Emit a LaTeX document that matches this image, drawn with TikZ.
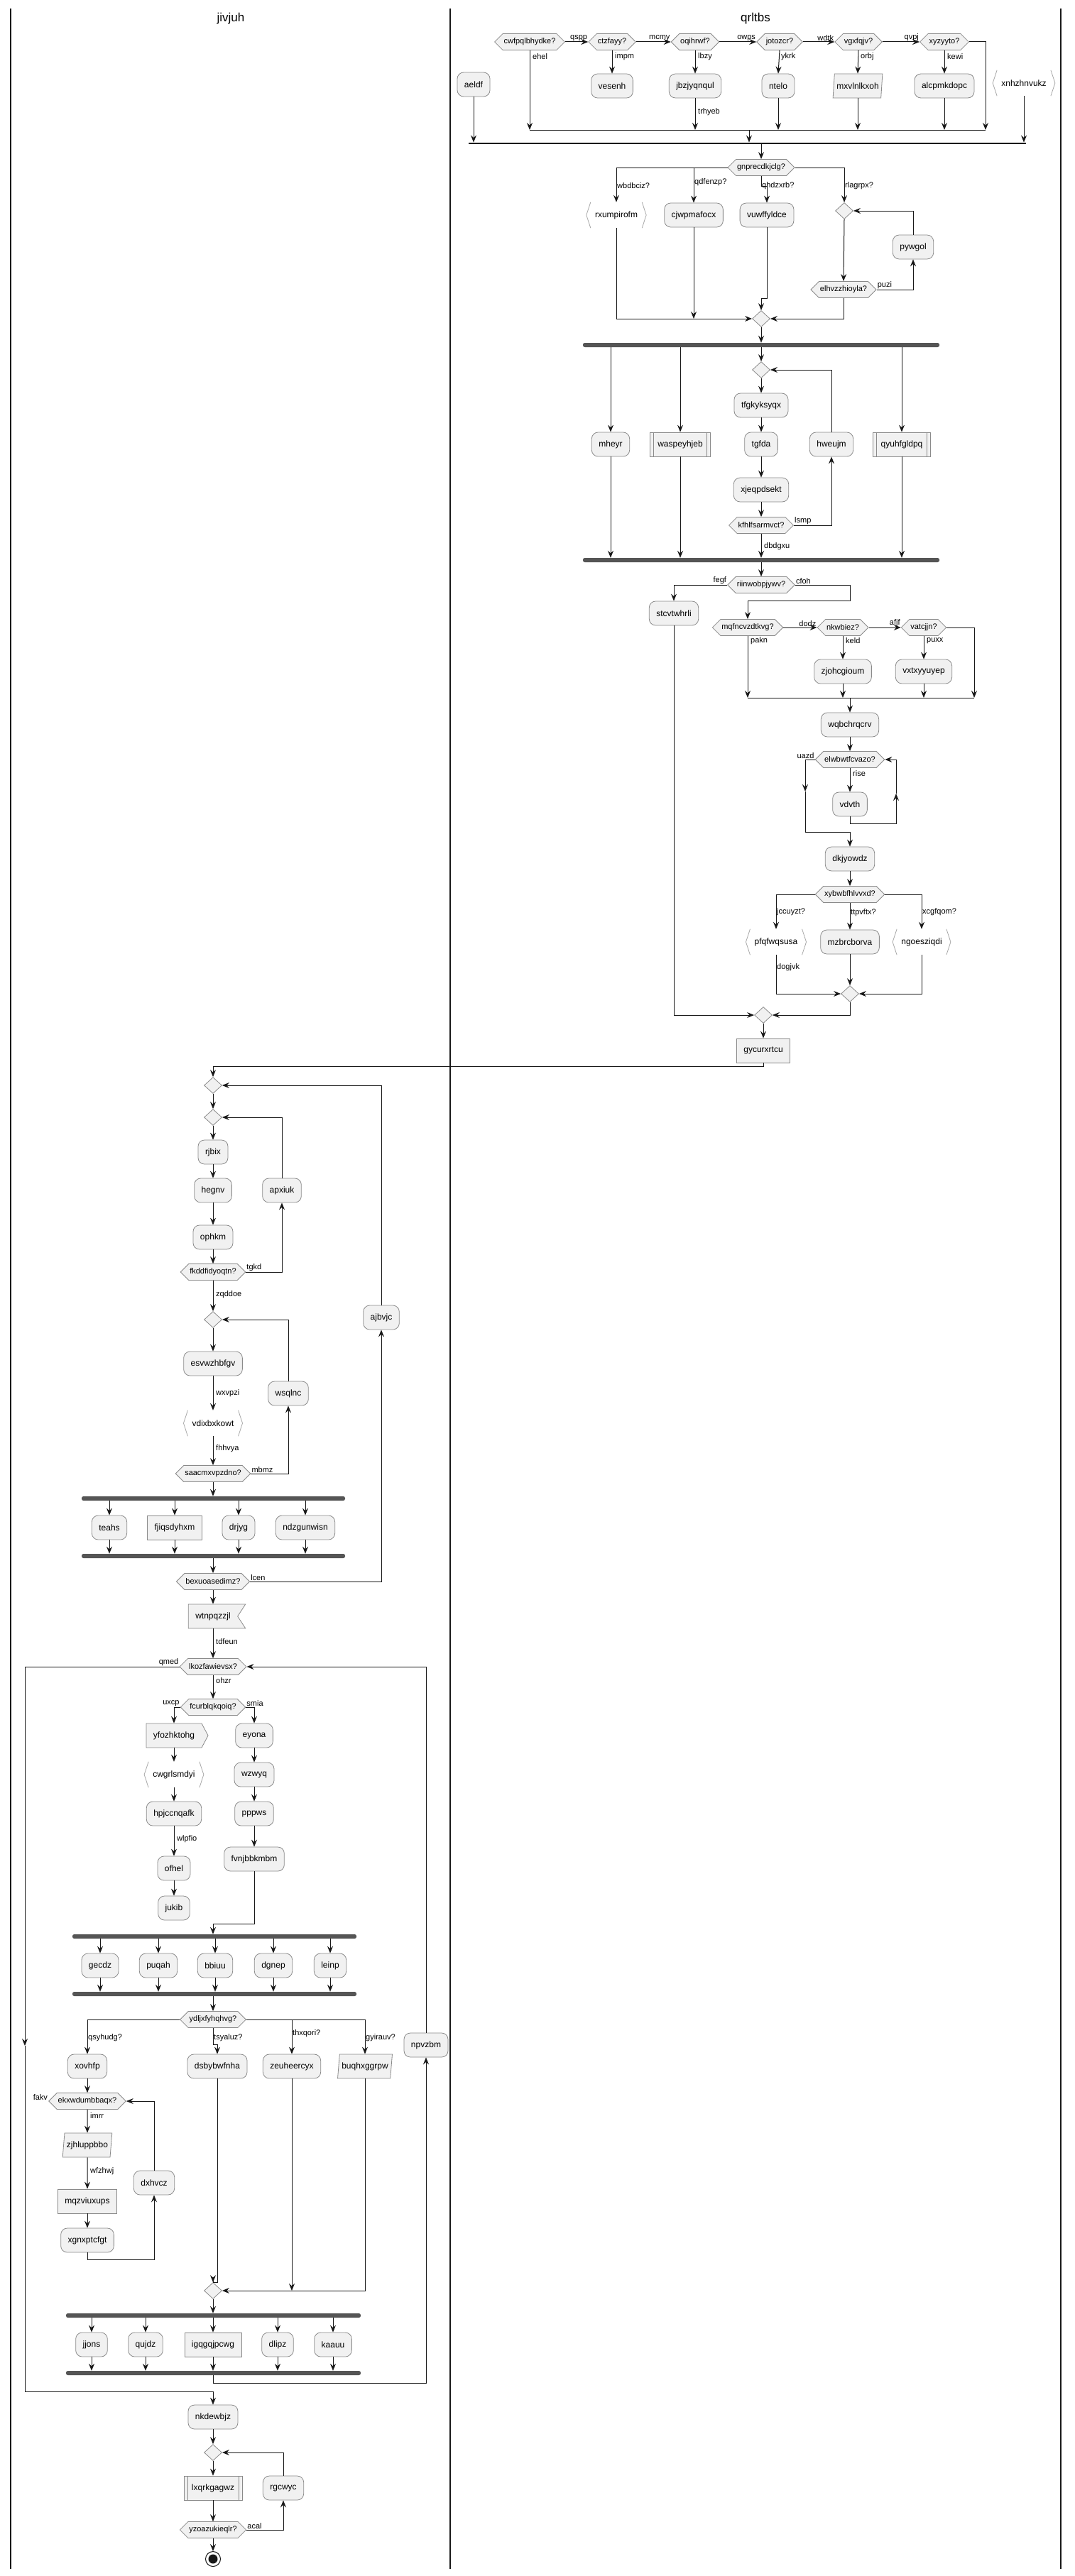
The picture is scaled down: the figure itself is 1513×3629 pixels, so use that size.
\documentclass[tikz,border=0pt]{standalone}
\usepackage{fontspec}
\setmainfont{Liberation Sans}
\usetikzlibrary{shapes.geometric,shapes.symbols,arrows.meta}

\definecolor{boxfill}{HTML}{F1F1F1}
\definecolor{boxline}{HTML}{8A8A8A}
\definecolor{chevline}{HTML}{A8A8A8}
\definecolor{wire}{HTML}{181818}
\definecolor{barfill}{HTML}{555555}

\newcommand\nodefont{\fontsize{12}{14}\selectfont}
\newcommand\condfont{\fontsize{11}{13}\selectfont}
\newcommand\lblfont{\fontsize{11}{13}\selectfont}
\newcommand\headfont{\fontsize{17}{20}\selectfont}

% angle-bracket outline drawn around a plain text node
\newcommand\chevrons[1]{%
  \draw[chevstroke] ([xshift=6pt]#1.north west) -- (#1.west) -- ([xshift=6pt]#1.south west);
  \draw[chevstroke] ([xshift=-6pt]#1.north east) -- (#1.east) -- ([xshift=-6pt]#1.south east);}

\tikzset{
  act/.style={draw=boxline, fill=boxfill, line width=0.8pt, rounded corners=9pt,
    minimum height=34pt, inner xsep=10pt, inner ysep=0pt, font=\nodefont, text=black},
  sq/.style={act, rounded corners=0pt},
  subr/.style={sq, inner xsep=11pt, path picture={
    \draw[boxline, line width=0.8pt]
      ([xshift=5pt]path picture bounding box.north west) -- ([xshift=5pt]path picture bounding box.south west)
      ([xshift=-5pt]path picture bounding box.north east) -- ([xshift=-5pt]path picture bounding box.south east);}},
  para/.style={trapezium, trapezium left angle=76, trapezium right angle=104,
    trapezium stretches body=true, draw=boxline, fill=boxfill, line width=0.8pt,
    minimum height=34pt, inner xsep=3pt, inner ysep=0pt, font=\nodefont},
  hexa/.style={signal, signal to=west and east, signal pointer angle=90,
    draw=boxline, fill=boxfill, line width=0.8pt, minimum height=23pt,
    inner xsep=1.5pt, inner ysep=0pt, font=\condfont},
  sendbox/.style={signal, signal to=east, signal from=nowhere, signal pointer angle=124,
    draw=boxline, fill=boxfill, line width=0.8pt, minimum height=34pt,
    inner xsep=10pt, inner ysep=0pt, font=\nodefont},
  recvbox/.style={signal, signal to=nowhere, signal from=east, signal pointer angle=114,
    draw=boxline, fill=boxfill, line width=0.8pt, minimum height=34pt,
    inner xsep=10pt, inner ysep=0pt, font=\nodefont},
  chev/.style={minimum height=36pt, inner xsep=12pt, inner ysep=0pt, font=\nodefont},
  chevstroke/.style={draw=chevline, line width=0.8pt},
  merge/.style={diamond, draw=boxline, fill=boxfill, line width=0.8pt,
    minimum width=25pt, minimum height=23pt, inner sep=0pt},
  forkbar/.style={fill=barfill, rounded corners=2.5pt, minimum height=6pt, inner sep=0pt},
  splitbar/.style={fill=wire, minimum height=2.5pt, inner sep=0pt},
  flow/.style={draw=wire, line width=1pt, -{Stealth[length=10pt, width=8pt, inset=3.5pt]}},
  wire1/.style={draw=wire, line width=1pt},
  lbl/.style={font=\lblfont, inner sep=1pt, text=black},
  lane/.style={draw=wire, line width=1.5pt},
  head/.style={font=\headfont, text=black},
}

\begin{document}
\begin{tikzpicture}[x=1pt, y=-1pt]
\useasboundingbox (0,0) rectangle (1513,3629);
\fill[white] (0,0) rectangle (1513,3629);

% swimlanes
\draw[lane] (15,12) -- (15,3619);
\draw[lane] (634,12) -- (634,3619);
\draw[lane] (1494,12) -- (1494,3619);
\node[head] (t1) at (325,26) {jivjuh};
\node[head] (t2) at (1064,26) {qrltbs};

% ---------------- lane qrltbs: condition chain ----------------
\node[hexa] (d1) at (746,59) {cwfpqlbhydke?};
\node[hexa] (d2) at (862,59) {ctzfayy?};
\node[hexa] (d3) at (979,59) {oqihrwf?};
\node[hexa] (d4) at (1098,59) {jotozcr?};
\node[hexa] (d5) at (1209,59) {vgxfqjv?};
\node[hexa] (d6) at (1330,59) {xyzyyto?};

\node[act] (aeldf) at (667,119) {aeldf};
\node[act] (vesenh) at (862,121) {vesenh};
\node[act] (jbz) at (979,121) {jbzjyqnqul};
\node[act] (ntelo) at (1096,121) {ntelo};
\node[para] (mxv) at (1208,121) {mxvlnlkxoh};
\node[act] (alc) at (1330,121) {alcpmkdopc};
\node[chev] (xnh) at (1442,117) {xnhzhnvukz};
\chevrons{xnh}

\coordinate (ml1a) at (746,183);
\coordinate (ml1b) at (1388,183);
\coordinate (ml1c) at (1055,183);
\node[splitbar, minimum width=785pt] (sp1) at (1052.5,202) {};

\draw[flow] (d1.east) -- (d2.west);
\draw[flow] (d2.east) -- (d3.west);
\draw[flow] (d3.east) -- (d4.west);
\draw[flow] (d4.east) -- (d5.west);
\draw[flow] (d5.east) -- (d6.west);
\draw[flow] (d1.south) -- (ml1a);
\draw[flow] (d2.south) -- (vesenh.north);
\draw[flow] (d3.south) -- (jbz.north);
\draw[flow] (d4.south) -- (ntelo.north);
\draw[flow] (d5.south) -- (mxv.north);
\draw[flow] (d6.south) -- (alc.north);
\draw[flow] (jbz.south) -- (jbz.south |- ml1a);
\draw[flow] (ntelo.south) -- (ntelo.south |- ml1a);
\draw[flow] (mxv.south) -- (mxv.south |- ml1a);
\draw[flow] (alc.south) -- (alc.south |- ml1a);
\draw[flow] (d6.east) -| (ml1b);
\draw[wire1] (ml1a) -- (ml1b);
\draw[flow] (ml1c) -- (ml1c |- sp1.north);
\draw[flow] (aeldf.south) -- (aeldf.south |- sp1.north);
\draw[flow] (xnh.south) -- (xnh.south |- sp1.north);

\node[lbl, anchor=south east] at (d2.west) {qspp};
\node[lbl, anchor=south east] at (d3.west) {mcmy};
\node[lbl, anchor=south east] at (d4.west) {owps};
\node[lbl, anchor=south east] at (d5.west) {wdtk};
\node[lbl, anchor=south east] at (d6.west) {qvpj};
\node[lbl, anchor=west] at (749,80) {ehel};
\node[lbl, anchor=west] at (865,80) {impm};
\node[lbl, anchor=west] at (982,80) {lbzy};
\node[lbl, anchor=west] at (1099,80) {ykrk};
\node[lbl, anchor=west] at (1211,80) {orbj};
\node[lbl, anchor=west] at (1333,80) {kewi};
\node[lbl, anchor=west] at (982,158) {trhyeb};

% ---------------- switch gnprecdkjclg ----------------
\node[hexa] (gnp) at (1072,236) {gnprecdkjclg?};
\node[chev] (rxu) at (868,303) {rxumpirofm};
\chevrons{rxu}
\node[act] (cjw) at (977,303) {cjwpmafocx};
\node[act] (vuw) at (1080,303) {vuwffyldce};
\node[merge] (rp1) at (1189,297) {};
\node[act] (pyw) at (1286,348) {pywgol};
\node[hexa] (elh) at (1188,408) {elhvzzhioyla?};
\node[merge] (mgA) at (1072,449) {};

\draw[flow] (gnp.north |- sp1.south) -- (gnp.north);
\draw[flow] (gnp.west) -| (rxu.north);
\draw[flow] (gnp.west) -| (cjw.north);
\draw[flow] (gnp.south) -- (1072,262) -| (vuw.north);
\draw[flow] (gnp.east) -| (rp1.north);
\draw[flow] (rp1.south) -- (elh.north);
\draw[flow] (elh.east) -| (pyw.south);
\draw[flow] (pyw.north) |- (rp1.east);
\draw[flow] (rxu.south) |- (mgA.west);
\draw[flow] (cjw.south) -- (cjw.south |- mgA.west);
\draw[flow] (vuw.south) |- (1072,420) -- (mgA.north);
\draw[flow] (elh.south) |- (mgA.east);

\node[lbl, anchor=west] at (868,262) {wbdbciz?};
\node[lbl, anchor=west] at (977,257) {qdfenzp?};
\node[lbl, anchor=west] at (1072,262) {qhdzxrb?};
\node[lbl, anchor=west] at (1189,262) {rlagrpx?};
\node[lbl, anchor=south west] at (elh.east) {puzi};

% ---------------- fork 1 ----------------
\node[forkbar, minimum width=502pt] (fk1) at (1072,486) {};
\node[merge] (rp2) at (1072,521) {};
\node[act] (tfg) at (1072,571) {tfgkyksyqx};
\node[act] (mheyr) at (860,626) {mheyr};
\node[subr] (wasp) at (958,626) {waspeyhjeb};
\node[act] (tgfda) at (1072,626) {tgfda};
\node[act] (hweujm) at (1171,626) {hweujm};
\node[subr] (qyuh) at (1270,626) {qyuhfgldpq};
\node[act] (xjeq) at (1072,690) {xjeqpdsekt};
\node[hexa] (kfh) at (1072,740) {kfhlfsarmvct?};
\node[forkbar, minimum width=502pt] (fk2) at (1072,789) {};

\draw[flow] (mgA.south) -- (mgA.south |- fk1.north);
\foreach \n in {mheyr,wasp,qyuh} {
  \draw[flow] (\n.north |- fk1.south) -- (\n.north);
  \draw[flow] (\n.south) -- (\n.south |- fk2.north);
}
\draw[flow] (rp2.north |- fk1.south) -- (rp2.north);
\draw[flow] (rp2.south) -- (tfg.north);
\draw[flow] (tfg.south) -- (tgfda.north);
\draw[flow] (tgfda.south) -- (xjeq.north);
\draw[flow] (xjeq.south) -- (kfh.north);
\draw[flow] (kfh.east) -| (hweujm.south);
\draw[flow] (hweujm.north) |- (rp2.east);
\draw[flow] (kfh.south) -- (kfh.south |- fk2.north);

\node[lbl, anchor=south west] at (kfh.east) {lsmp};
\node[lbl, anchor=west] at (1075,770) {dbdgxu};

% ---------------- riinwobpjywv ----------------
\node[hexa] (riin) at (1072,824) {riinwobpjywv?};
\node[act] (stcv) at (949,864) {stcvtwhrli};
\node[hexa] (mqf) at (1053,884) {mqfncvzdtkvg?};
\node[hexa] (nkw) at (1187,884) {nkwbiez?};
\node[hexa] (vat) at (1301,884) {vatcjjn?};
\node[act] (zjoh) at (1187,946) {zjohcgioum};
\node[act] (vxt) at (1301,946) {vxtxyyuyep};
\coordinate (ml2a) at (1053,983);
\coordinate (ml2b) at (1372,983);
\coordinate (ml2c) at (1197,983);
\node[act] (wqb) at (1197,1021) {wqbchrqcrv};
\node[hexa] (elw) at (1197,1070) {elwbwtfcvazo?};
\node[act] (vdvth) at (1197,1133) {vdvth};
\node[act] (dkj) at (1197,1210) {dkjyowdz};
\node[hexa] (xyb) at (1197,1260) {xybwbfhlvvxd?};
\node[chev] (pfq) at (1093,1327) {pfqfwqsusa};
\chevrons{pfq}
\node[act] (mzb) at (1197,1327) {mzbrcborva};
\node[chev] (ngo) at (1298,1327) {ngoesziqdi};
\chevrons{ngo}
\node[merge] (mgB) at (1197,1400) {};
\node[merge] (mgC) at (1075,1430) {};
\node[sq] (gyc) at (1075,1480) {gycurxrtcu};

\draw[flow] (riin.north |- fk2.south) -- (riin.north);
\draw[flow] (riin.west) -| (stcv.north);
\draw[flow] (riin.east) -- (1197,824) |- (1053,846) -- (mqf.north);
\draw[flow] (mqf.east) -- (nkw.west);
\draw[flow] (nkw.east) -- (vat.west);
\draw[flow] (vat.east) -| (ml2b);
\draw[flow] (mqf.south) -- (ml2a);
\draw[flow] (nkw.south) -- (zjoh.north);
\draw[flow] (vat.south) -- (vxt.north);
\draw[flow] (zjoh.south) -- (zjoh.south |- ml2a);
\draw[flow] (vxt.south) -- (vxt.south |- ml2a);
\draw[wire1] (ml2a) -- (ml2b);
\draw[flow] (ml2c) -- (wqb.north);
\draw[flow] (wqb.south) -- (elw.north);
\draw[flow] (elw.south) -- (vdvth.north);
\draw[flow] (vdvth.south) -- (1197,1160) -| (1262,1118);
\draw[flow] (1262,1118) |- (elw.east);
\draw[flow] (elw.west) -| (1134,1115);
\draw[flow] (1134,1115) |- (1197,1172) -- (dkj.north);
\draw[flow] (dkj.south) -- (xyb.north);
\draw[flow] (xyb.west) -| (pfq.north);
\draw[flow] (xyb.south) -- (mzb.north);
\draw[flow] (xyb.east) -| (ngo.north);
\draw[flow] (pfq.south) |- (mgB.west);
\draw[flow] (mzb.south) -- (mgB.north);
\draw[flow] (ngo.south) |- (mgB.east);
\draw[flow] (mgB.south) |- (mgC.east);
\draw[flow] (stcv.south) |- (mgC.west);
\draw[flow] (mgC.south) -- (gyc.north);

\node[lbl, anchor=south east] at (riin.west) {fegf};
\node[lbl, anchor=south west] at (riin.east) {cfoh};
\node[lbl, anchor=south east] at (nkw.west) {dodz};
\node[lbl, anchor=south east] at (vat.west) {afjf};
\node[lbl, anchor=west] at (1056,903) {pakn};
\node[lbl, anchor=west] at (1190,903) {keld};
\node[lbl, anchor=west] at (1304,903) {puxx};
\node[lbl, anchor=south east] at (elw.west) {uazd};
\node[lbl, anchor=west] at (1200,1090) {rise};
\node[lbl, anchor=west] at (1093,1285) {jccuyzt?};
\node[lbl, anchor=west] at (1197,1286) {ttpvftx?};
\node[lbl, anchor=west] at (1298,1285) {xcgfqom?};
\node[lbl, anchor=west] at (1093,1363) {dogjvk};

% ---------------- lane jivjuh ----------------
\coordinate (gycdrop) at (1075,1502);
\node[merge] (m1) at (300,1529) {};
\node[merge] (m2) at (300,1574) {};
\node[act] (rjbix) at (300,1623) {rjbix};
\node[act] (hegnv) at (300,1677) {hegnv};
\node[act] (apxiuk) at (397,1677) {apxiuk};
\node[act] (ophkm) at (300,1743) {ophkm};
\node[hexa] (fkdd) at (300,1792) {fkddfidyoqtn?};
\node[merge] (m3) at (300,1859) {};
\node[act] (esvw) at (300,1921) {esvwzhbfgv};
\node[act] (wsqlnc) at (406,1963) {wsqlnc};
\node[chev] (vdix) at (300,2005) {vdixbxkowt};
\chevrons{vdix}
\node[hexa] (saac) at (300,2076) {saacmxvpzdno?};
\node[act] (ajbvjc) at (537,1856) {ajbvjc};
\node[forkbar, minimum width=371pt] (fk3) at (300.5,2111) {};
\node[act] (teahs) at (154,2152) {teahs};
\node[sq] (fjiq) at (246,2152) {fjiqsdyhxm};
\node[act] (drjyg) at (336,2152) {drjyg};
\node[act] (ndzg) at (430,2152) {ndzgunwisn};
\node[forkbar, minimum width=371pt] (fk4) at (300.5,2192) {};
\node[hexa] (bexu) at (300,2228) {bexuoasedimz?};
\node[recvbox] (wtnp) at (300,2277) {wtnpqzzjl};

\draw[flow] (gyc.south) -- (gycdrop) -| (m1.north);
\draw[flow] (m1.south) -- (m2.north);
\draw[flow] (m2.south) -- (rjbix.north);
\draw[flow] (rjbix.south) -- (hegnv.north);
\draw[flow] (hegnv.south) -- (ophkm.north);
\draw[flow] (ophkm.south) -- (fkdd.north);
\draw[flow] (fkdd.east) -| (apxiuk.south);
\draw[flow] (apxiuk.north) |- (m2.east);
\draw[flow] (fkdd.south) -- (m3.north);
\draw[flow] (m3.south) -- (esvw.north);
\draw[flow] (esvw.south) -- (vdix.north);
\draw[flow] (vdix.south) -- (saac.north);
\draw[flow] (saac.east) -| (wsqlnc.south);
\draw[flow] (wsqlnc.north) |- (m3.east);
\draw[flow] (saac.south) -- (saac.south |- fk3.north);
\foreach \n in {teahs,fjiq,drjyg,ndzg} {
  \draw[flow] (\n.north |- fk3.south) -- (\n.north);
  \draw[flow] (\n.south) -- (\n.south |- fk4.north);
}
\draw[flow] (bexu.north |- fk4.south) -- (bexu.north);
\draw[flow] (bexu.east) -| (ajbvjc.south);
\draw[flow] (ajbvjc.north) |- (m1.east);
\draw[flow] (bexu.south) -- (wtnp.north);

\node[lbl, anchor=south west] at (fkdd.east) {tgkd};
\node[lbl, anchor=west] at (303,1824) {zqddoe};
\node[lbl, anchor=west] at (303,1963) {wxvpzi};
\node[lbl, anchor=west] at (303,2041) {fhhvya};
\node[lbl, anchor=south west] at (saac.east) {mbmz};
\node[lbl, anchor=south west] at (bexu.east) {lcen};

% outer while loop
\node[hexa] (lkoz) at (300,2348) {lkozfawievsx?};
\node[hexa] (fcur) at (300,2405) {fcurblqkqoiq?};
\node[sendbox] (yfoz) at (245,2445) {yfozhktohg};
\node[chev] (cwgr) at (245,2500) {cwgrlsmdyi};
\chevrons{cwgr}
\node[act] (hpjc) at (245,2555) {hpjccnqafk};
\node[act] (ofhel) at (245,2632) {ofhel};
\node[act] (jukib) at (245,2688) {jukib};
\node[act] (eyona) at (358,2445) {eyona};
\node[act] (wzwyq) at (358,2500) {wzwyq};
\node[act] (pppws) at (358,2555) {pppws};
\node[act] (fvnj) at (358,2619) {fvnjbbkmbm};
\coordinate (fvdrop) at (300,2710);
\node[forkbar, minimum width=400pt] (fk5) at (302,2728) {};
\node[act] (gecdz) at (141,2769) {gecdz};
\node[act] (puqah) at (223,2769) {puqah};
\node[act] (bbiuu) at (303,2769) {bbiuu};
\node[act] (dgnep) at (385,2769) {dgnep};
\node[act] (leinp) at (465,2769) {leinp};
\node[forkbar, minimum width=400pt] (fk6) at (302,2809) {};

\draw[flow] (wtnp.south) -- (lkoz.north);
\draw[flow] (lkoz.south) -- (fcur.north);
\draw[flow] (fcur.west) -| (yfoz.north);
\draw[flow] (fcur.east) -| (eyona.north);
\draw[flow] (yfoz.south) -- (cwgr.north);
\draw[flow] (cwgr.south) -- (hpjc.north);
\draw[flow] (hpjc.south) -- (ofhel.north);
\draw[flow] (ofhel.south) -- (jukib.north);
\draw[flow] (eyona.south) -- (wzwyq.north);
\draw[flow] (wzwyq.south) -- (pppws.north);
\draw[flow] (pppws.south) -- (fvnj.north);
\draw[flow] (fvnj.south) |- (fvdrop) -- (fvdrop |- fk5.north);
\foreach \n in {gecdz,puqah,bbiuu,dgnep,leinp} {
  \draw[flow] (\n.north |- fk5.south) -- (\n.north);
  \draw[flow] (\n.south) -- (\n.south |- fk6.north);
}

\node[lbl, anchor=west] at (303,2313) {tdfeun};
\node[lbl, anchor=south east] at (lkoz.west) {qmed};
\node[lbl, anchor=west] at (303,2368) {ohzr};
\node[lbl, anchor=south east] at (fcur.west) {uxcp};
\node[lbl, anchor=south west] at (fcur.east) {smia};
\node[lbl, anchor=west] at (248,2591) {wlpfio};

% switch ydljxfyhqhvg
\node[hexa] (ydlj) at (300,2845) {ydljxfyhqhvg?};
\node[act] (xovhfp) at (123,2911) {xovhfp};
\node[act] (dsby) at (306,2911) {dsbybwfnha};
\node[act] (zeuh) at (411,2911) {zeuheercyx};
\node[para] (buqh) at (514,2911) {buqhxggrpw};
\node[act] (npvzbm) at (600,2881) {npvzbm};
\node[hexa] (ekxw) at (123,2960) {ekxwdumbbaqx?};
\node[para] (zjhl) at (123,3022) {zjhluppbbo};
\node[act] (dxhvcz) at (217,3075) {dxhvcz};
\node[sq] (mqzv) at (123,3101) {mqzviuxups};
\node[act] (xgnx) at (123,3156) {xgnxptcfgt};
\node[merge] (mgD) at (300,3227) {};
\node[forkbar, minimum width=415pt] (fk7) at (300.5,3262) {};
\node[act] (jjons) at (129,3303) {jjons};
\node[act] (qujdz) at (205,3303) {qujdz};
\node[sq] (igqg) at (300,3303) {igqgqjpcwg};
\node[act] (dlipz) at (391,3303) {dlipz};
\node[act] (kaauu) at (469,3303) {kaauu};
\node[forkbar, minimum width=415pt] (fk8) at (300.5,3343) {};

\draw[flow] (ydlj.north |- fk6.south) -- (ydlj.north);
\draw[flow] (ydlj.west) -| (xovhfp.north);
\draw[flow] (ydlj.south) -- (300,2880) -| (dsby.north);
\draw[flow] (ydlj.east) -| (zeuh.north);
\draw[flow] (ydlj.east) -| (buqh.north);
\draw[flow] (xovhfp.south) -- (ekxw.north);
\draw[flow] (ekxw.south) -- (zjhl.north);
\draw[flow] (zjhl.south) -- (mqzv.north);
\draw[flow] (mqzv.south) -- (xgnx.north);
\draw[flow] (xgnx.south) -- (123,3183) -| (dxhvcz.south);
\draw[flow] (dxhvcz.north) |- (ekxw.east);
\draw[flow] (dsby.south) -- (306,3215) -| (mgD.north);
\draw[flow] (zeuh.south) -- (zeuh.south |- mgD.east);
\draw[flow] (buqh.south) |- (mgD.east);
\draw[flow] (mgD.south) -- (mgD.south |- fk7.north);
\foreach \n in {jjons,qujdz,igqg,dlipz,kaauu} {
  \draw[flow] (\n.north |- fk7.south) -- (\n.north);
  \draw[flow] (\n.south) -- (\n.south |- fk8.north);
}
\draw[flow] (fk8.south) -- (300.5,3357) -| (npvzbm.south);
\draw[flow] (npvzbm.north) |- (lkoz.east);

\node[lbl, anchor=west] at (123,2871) {qsyhudg?};
\node[lbl, anchor=west] at (300,2871) {tsyaluz?};
\node[lbl, anchor=west] at (411,2865) {thxqori?};
\node[lbl, anchor=west] at (514,2871) {gyirauv?};
\node[lbl, anchor=south east] at (ekxw.west) {fakv};
\node[lbl, anchor=west] at (126,2980) {imrr};
\node[lbl, anchor=west] at (126,3059) {wfzhwj};

% exit of the outer loop and final repeat
\node[act] (nkde) at (300,3405) {nkdewbjz};
\node[merge] (m5) at (300,3455) {};
\node[subr] (lxqr) at (300,3505) {lxqrkgagwz};
\node[act] (rgcwyc) at (399,3505) {rgcwyc};
\node[hexa] (yzoa) at (300,3564) {yzoazukieqlr?};
\node[circle, draw=wire, line width=1pt, fill=white, minimum size=21pt, inner sep=0pt] (stopo) at (300,3605) {};
\node[circle, fill=wire, minimum size=13pt, inner sep=0pt] (stopi) at (300,3605) {};

\draw[flow] (lkoz.west) -| (35,2882);
\draw[flow] (35,2882) -- (35,3369) -| (nkde.north);
\draw[flow] (nkde.south) -- (m5.north);
\draw[flow] (m5.south) -- (lxqr.north);
\draw[flow] (lxqr.south) -- (yzoa.north);
\draw[flow] (yzoa.east) -| (rgcwyc.south);
\draw[flow] (rgcwyc.north) |- (m5.east);
\draw[flow] (yzoa.south) -- (stopo.north);

\node[lbl, anchor=south west] at (yzoa.east) {acal};
\end{tikzpicture}
\end{document}
